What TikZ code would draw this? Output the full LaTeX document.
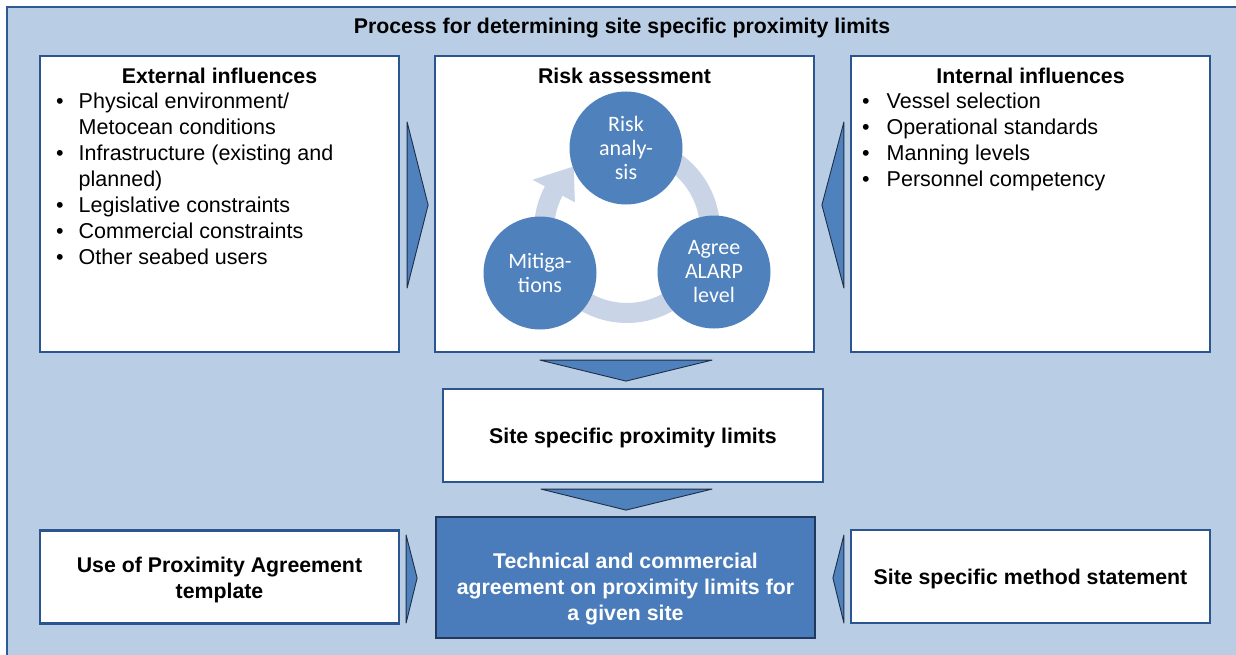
\documentclass[tikz,border=0pt]{standalone}
\usepackage{fontspec}
\setmainfont{Liberation Sans}
\newfontfamily\calfont{Carlito}
\usetikzlibrary{calc}
\definecolor{bgblue}{HTML}{B9CDE5}
\definecolor{frameline}{HTML}{2F5A96}
\definecolor{boxline}{HTML}{2A5590}
\definecolor{arrowfill}{HTML}{4F81BD}
\definecolor{arrowline}{HTML}{1E2E48}
\definecolor{techfill}{HTML}{4A7CBB}
\definecolor{techline}{HTML}{22395C}
\definecolor{circfill}{HTML}{4F81BD}
\definecolor{ringc}{HTML}{C9D5E6}
\begin{document}
\begin{tikzpicture}[x=1pt,y=-1pt,
  box/.style={draw=boxline, line width=2.2pt, fill=white, rectangle, inner sep=0pt},
  techbox/.style={draw=techline, line width=1.6pt, fill=techfill, rectangle, inner sep=0pt},
  chev/.style={fill=arrowfill, draw=arrowline, line width=0.9pt, line join=round},
  boldtxt/.style={font=\fontsize{21.3}{26}\selectfont\bfseries, align=center, inner sep=0pt, anchor=base},
  boldblock/.style={font=\fontsize{21.3}{26}\selectfont\bfseries, align=center, inner sep=0pt, anchor=center},
  listtxt/.style={font=\fontsize{21.5}{26}\selectfont, inner sep=0pt, anchor=north west},
  circ/.style={circle, fill=circfill, minimum size=113pt, inner sep=0pt, text=white, align=center,
    font=\calfont\fontsize{22}{24}\selectfont},
  ring/.style={draw=ringc, line width=20pt}
]
\useasboundingbox (0,0) rectangle (1236,655);
\fill[white] (0,0) rectangle (1236,655);
\begin{scope}
  \clip (0,0) rectangle (1236,655);
  \filldraw[fill=bgblue, draw=frameline, line width=2pt] (7,7) rectangle (1260,680);
\end{scope}

% title
\node[boldtxt] (title) at (622,34) {Process for determining site specific proximity limits};

% boxes
\node[box, minimum width=359pt, minimum height=296pt] (ext) at (219.5,204) {};
\node[box, minimum width=379pt, minimum height=296pt] (risk) at (624.5,204) {};
\node[box, minimum width=359pt, minimum height=296pt] (int) at (1030.5,204) {};
\node[box, minimum width=380pt, minimum height=93pt] (site) at (633,435.5) {};
\node[box, minimum width=359pt, minimum height=93pt] (tmpl) at (219.5,577) {};
\node[techbox, minimum width=379pt, minimum height=121pt] (tech) at (625.5,577.5) {};
\node[box, minimum width=359pt, minimum height=93pt] (meth) at (1030.5,576.5) {};

% headings
\node[boldtxt] (exth) at ($(ext.north)+(0,29)$) {External influences};
\node[boldtxt] (riskh) at ($(risk.north)+(0,29)$) {Risk assessment};
\node[boldtxt] (inth) at ($(int.north)+(0,29)$) {Internal influences};

% lists
\node[listtxt] (extlist) at (56,90) {\begin{tabular}{@{}l@{\hspace{15pt}}l@{}}
\textbullet & Physical environment/\\
 & Metocean conditions\\
\textbullet & Infrastructure (existing and\\
 & planned)\\
\textbullet & Legislative constraints\\
\textbullet & Commercial constraints\\
\textbullet & Other seabed users
\end{tabular}};
\node[listtxt] (intlist) at (862,90) {\begin{tabular}{@{}l@{\hspace{17pt}}l@{}}
\textbullet & Vessel selection\\
\textbullet & Operational standards\\
\textbullet & Manning levels\\
\textbullet & Personnel competency
\end{tabular}};

% other texts
\node[boldtxt] (sitet) at ($(site.center)+(0,7.5)$) {Site specific proximity limits};
\node[boldblock] (tmplt) at ($(tmpl.center)+(0,2.5)$) {Use of Proximity Agreement\\template};
\node[boldblock, text=white] (techt) at ($(tech.center)+(0,12)$) {Technical and commercial\\agreement on proximity limits for\\a given site};
\node[boldtxt] (metht) at ($(meth.center)+(0,8)$) {Site specific method statement};

% cycle diagram
\coordinate (rc) at (627,230);
\draw[ring] ($(rc)+(-60:83)$) arc[start angle=-60, end angle=25, radius=83];
\draw[ring] ($(rc)+(40:83)$) arc[start angle=40, end angle=140, radius=83];
\draw[ring] ($(rc)+(-200:83)$) arc[start angle=-200, end angle=-150, radius=83];
\fill[ringc] ($(rc)+(-152:59)$) -- ($(rc)+(-130:83)$) -- ($(rc)+(-152:107)$) -- cycle;
\node[circ] (ra) at (626,148) {Risk\\analy-\\sis};
\node[circ] (mit) at (540,273) {Mitiga-\\tions};
\node[circ] (alarp) at (714,272) {Agree\\ALARP\\level};

% chevrons
\filldraw[chev] ($(ext.east)+(7,-82)$) -- ($(ext.east)+(28,1)$) -- ($(ext.east)+(7,84)$) -- cycle;
\filldraw[chev] ($(int.west)+(-6,-82)$) -- ($(int.west)+(-28,1)$) -- ($(int.west)+(-6,84)$) -- cycle;
\filldraw[chev] ($(risk.south)+(-84.5,7)$) -- ($(risk.south)+(87.5,7)$) -- ($(risk.south)+(1.5,28)$) -- cycle;
\filldraw[chev] ($(site.south)+(-92,6)$) -- ($(site.south)+(79,6)$) -- ($(site.south)+(-7,27)$) -- cycle;
\filldraw[chev] ($(tmpl.east)+(6,-42)$) -- ($(tmpl.east)+(17,1)$) -- ($(tmpl.east)+(6,46)$) -- cycle;
\filldraw[chev] ($(meth.west)+(-6,-41.5)$) -- ($(meth.west)+(-17,1.5)$) -- ($(meth.west)+(-6,46.5)$) -- cycle;
\end{tikzpicture}
\end{document}
